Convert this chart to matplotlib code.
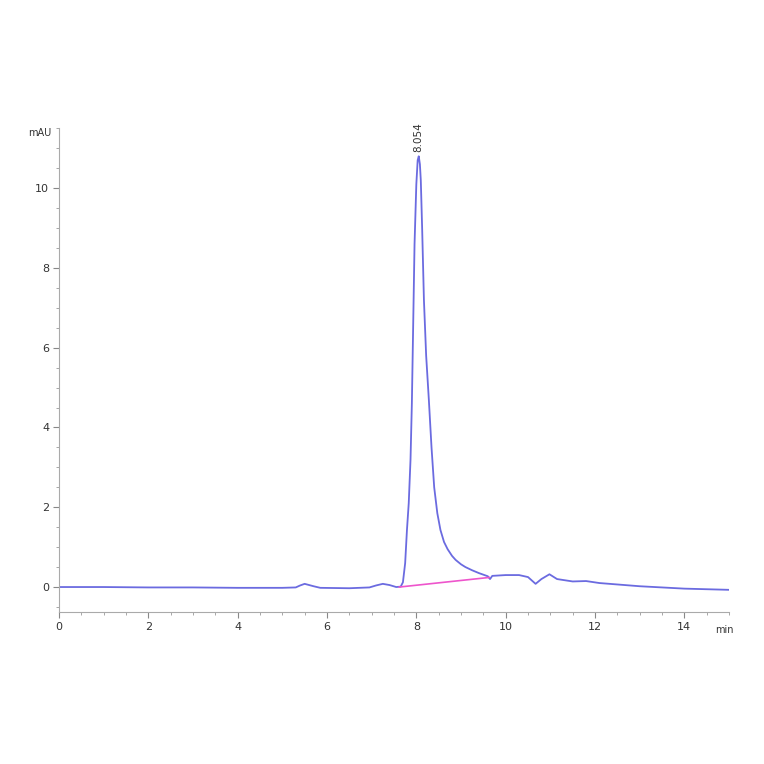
import matplotlib
matplotlib.use("Agg")
import matplotlib.pyplot as plt
from matplotlib.ticker import MultipleLocator

# Chromatogram trace (time in min, signal in mAU)
times = [0.0, 1.0, 2.0, 3.0, 4.0, 5.0, 5.3, 5.4, 5.5, 5.6, 5.7, 5.85, 6.5, 6.95,
         7.1, 7.25, 7.4, 7.55, 7.65, 7.7, 7.75, 7.79, 7.83, 7.87, 7.9, 7.93,
         7.96, 8.0, 8.03, 8.054, 8.08, 8.1, 8.13, 8.17, 8.22, 8.28, 8.34, 8.4,
         8.47, 8.54, 8.62, 8.7, 8.8, 8.88, 9.0, 9.1, 9.25, 9.4, 9.5, 9.6, 9.65,
         9.7, 10.0, 10.3, 10.5, 10.67, 10.8, 10.98, 11.15, 11.5, 11.8, 12.1,
         13.0, 14.0, 15.0]
signal = [0.0, 0.0, -0.01, -0.01, -0.02, -0.02, -0.01, 0.04, 0.08, 0.05, 0.02,
          -0.02, -0.03, -0.01, 0.04, 0.08, 0.05, 0.0, 0.01, 0.12, 0.6, 1.43,
          2.1, 3.2, 4.6, 6.6, 8.6, 10.1, 10.7, 10.8, 10.6, 10.2, 9.0, 7.2, 5.8,
          4.7, 3.5, 2.5, 1.85, 1.43, 1.13, 0.95, 0.78, 0.68, 0.57, 0.5, 0.42,
          0.35, 0.31, 0.27, 0.2, 0.28, 0.3, 0.3, 0.25, 0.08, 0.2, 0.32, 0.2,
          0.14, 0.15, 0.1, 0.02, -0.04, -0.07]

# Integration baseline under the main peak
base_t = [7.62, 9.63]
base_y = [0.0, 0.24]

peak_time = 8.054
peak_height = 10.8
peak_label = "8.054"

fig = plt.figure(figsize=(7.64, 7.64), dpi=100)
ax = fig.add_axes([0.0772, 0.199, 0.877, 0.633])

ax.plot(times, signal, color="#6b6be0", lw=1.3)
ax.plot(base_t, base_y, color="#ee55cc", lw=1.2)
ax.text(peak_time, peak_height + 0.1, peak_label, rotation=90, ha="center",
        va="bottom", fontsize=7.5, color="#333333")

ax.set_xlim(0, 15)
ax.set_ylim(-0.625, 11.5)
ax.xaxis.set_major_locator(MultipleLocator(2))
ax.xaxis.set_minor_locator(MultipleLocator(0.5))
ax.yaxis.set_major_locator(MultipleLocator(2))
ax.yaxis.set_minor_locator(MultipleLocator(0.5))

for side in ["top", "right"]:
    ax.spines[side].set_visible(False)
for side in ["left", "bottom"]:
    ax.spines[side].set_color("#aaaaaa")
ax.tick_params(which="major", length=4, width=0.8, color="#888888",
               labelsize=8, labelcolor="#333333", pad=3)
ax.tick_params(which="minor", length=2, width=0.6, color="#999999")

fig.text(0.037, 0.826, "mAU", fontsize=7, color="#333333", ha="left", va="center")
fig.text(0.936, 0.175, "min", fontsize=7, color="#333333", ha="left", va="center")

fig.savefig("out.png", dpi=100, facecolor="white")
